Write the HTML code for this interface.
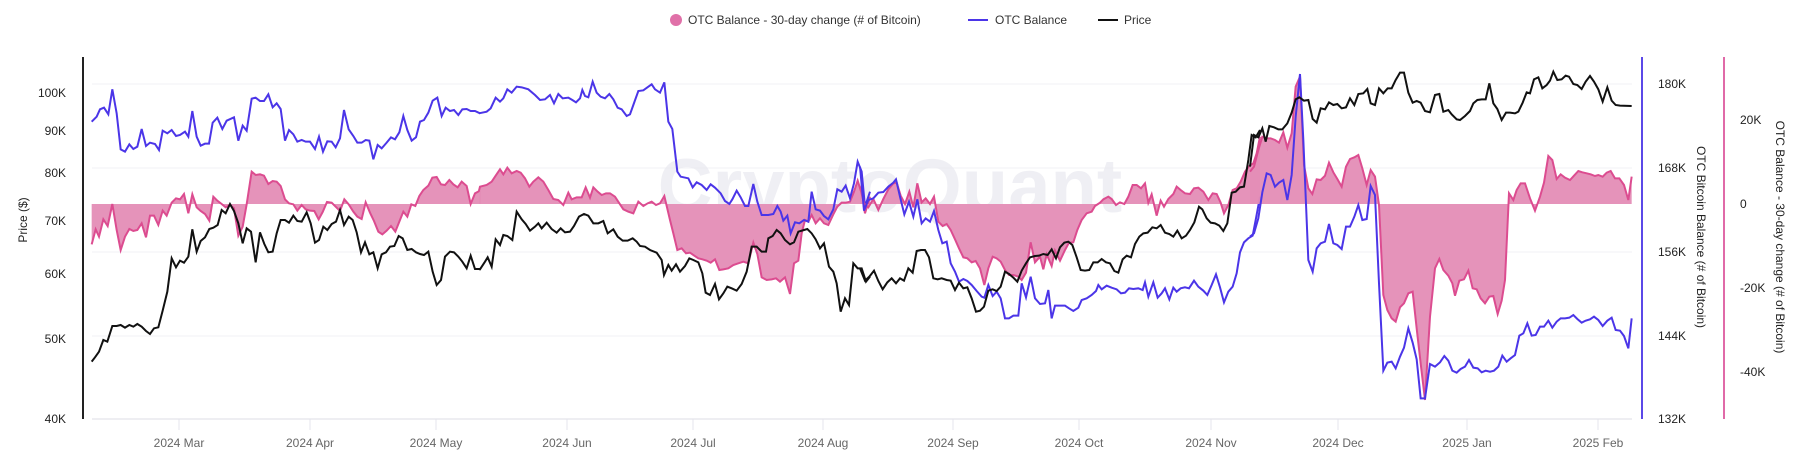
<!DOCTYPE html>
<html><head><meta charset="utf-8"><style>
body{margin:0;background:#fff;}
svg{display:block;font-family:"Liberation Sans",Arial,sans-serif;}
</style></head><body>
<svg width="1814" height="462" viewBox="0 0 1814 462" xmlns="http://www.w3.org/2000/svg">
<!-- legend -->
<circle cx="676" cy="20" r="6" fill="#e070a8"/>
<text x="688" y="24" font-size="12" fill="#333">OTC Balance - 30-day change (# of Bitcoin)</text>
<line x1="968" y1="20" x2="988" y2="20" stroke="#4b35e8" stroke-width="2"/>
<text x="995" y="24" font-size="12" fill="#333">OTC Balance</text>
<line x1="1098" y1="20" x2="1118" y2="20" stroke="#111" stroke-width="2"/>
<text x="1124" y="24" font-size="12" fill="#333">Price</text>
<!-- grid -->
<g stroke="#f0f0f4" stroke-width="1">
<line x1="92" y1="84" x2="1632" y2="84"/><line x1="92" y1="168" x2="1632" y2="168"/>
<line x1="92" y1="252" x2="1632" y2="252"/><line x1="92" y1="336" x2="1632" y2="336"/>
</g>
<line x1="92" y1="419" x2="1632" y2="419" stroke="#dcdce6" stroke-width="1"/>
<g stroke="#e4e4ec" stroke-width="1">
<line x1="179" y1="419" x2="179" y2="430"/><line x1="310" y1="419" x2="310" y2="430"/><line x1="436" y1="419" x2="436" y2="430"/><line x1="567" y1="419" x2="567" y2="430"/><line x1="693" y1="419" x2="693" y2="430"/><line x1="823" y1="419" x2="823" y2="430"/><line x1="953" y1="419" x2="953" y2="430"/><line x1="1079" y1="419" x2="1079" y2="430"/><line x1="1211" y1="419" x2="1211" y2="430"/><line x1="1338" y1="419" x2="1338" y2="430"/><line x1="1467" y1="419" x2="1467" y2="430"/><line x1="1598" y1="419" x2="1598" y2="430"/>
</g>
<g font-size="12" fill="#666" text-anchor="middle">
<text x="179" y="447">2024 Mar</text><text x="310" y="447">2024 Apr</text><text x="436" y="447">2024 May</text><text x="567" y="447">2024 Jun</text><text x="693" y="447">2024 Jul</text><text x="823" y="447">2024 Aug</text><text x="953" y="447">2024 Sep</text><text x="1079" y="447">2024 Oct</text><text x="1211" y="447">2024 Nov</text><text x="1338" y="447">2024 Dec</text><text x="1467" y="447">2025 Jan</text><text x="1598" y="447">2025 Feb</text>
</g>
<!-- watermark -->
<text x="890" y="212" font-size="76" fill="#e8e8f0" fill-opacity="0.7" text-anchor="middle" font-weight="bold">CryptoQuant</text>
<!-- axes -->
<line x1="83" y1="57" x2="83" y2="419" stroke="#222" stroke-width="2"/>
<line x1="1642" y1="57" x2="1642" y2="419" stroke="#5b48e8" stroke-width="2"/>
<line x1="1724" y1="57" x2="1724" y2="419" stroke="#e06aa8" stroke-width="2"/>
<g font-size="12" fill="#222" text-anchor="end">
<text x="66" y="97">100K</text><text x="66" y="135">90K</text><text x="66" y="177">80K</text><text x="66" y="225">70K</text><text x="66" y="278">60K</text><text x="66" y="343">50K</text><text x="66" y="423">40K</text>
</g>
<text transform="translate(27,220) rotate(-90)" font-size="12" fill="#222" text-anchor="middle">Price ($)</text>
<g font-size="12" fill="#222">
<text x="1658" y="88">180K</text><text x="1658" y="172">168K</text><text x="1658" y="256">156K</text><text x="1658" y="340">144K</text><text x="1658" y="423">132K</text>
<text x="1740" y="124">20K</text><text x="1740" y="208">0</text><text x="1740" y="292">-20K</text><text x="1740" y="376">-40K</text>
</g>
<text transform="translate(1697,237) rotate(90)" font-size="12" fill="#222" text-anchor="middle">OTC Bitcoin Balance (# of Bitcoin)</text>
<text transform="translate(1776,237) rotate(90)" font-size="12" fill="#222" text-anchor="middle">OTC Balance - 30-day change (# of Bitcoin)</text>

<!-- series: sections in zoom coords -->
<g transform="translate(80,50) scale(0.33333)">
<path d="M35,462 L35,583 47,538 57,560 70,508 83,528 97,462 110,540 122,600 135,560 148,537 160,543 172,540 185,520 198,562 210,497 222,497 235,525 248,482 260,497 275,458 288,445 300,448 312,432 325,490 337,433 350,472 362,483 375,492 388,512 400,440 412,452 425,462 437,472 450,465 462,475 475,557 488,530 500,463 515,365 527,375 540,373 552,377 565,402 578,393 590,395 602,408 615,448 627,460 640,463 652,482 665,465 677,478 690,482 703,483 716,508 728,486 741,456 755,458 767,470 780,483 793,448 806,463 820,485 832,500 845,507 857,457 870,488 882,513 895,545 907,553 920,542 933,528 946,545 958,515 970,485 982,500 994,463 1006,468 1018,438 1030,420 1045,407 1057,383 1070,381 1083,403 1095,405 1108,390 1120,403 1133,412 1145,395 1160,408 1172,462 1185,430 1200,422 1203,422 L1203,462 Z" fill="#e48db6" fill-opacity="0.95"/>
<polyline fill="none" stroke="#dc4c90" stroke-width="6" points="35,583 47,538 57,560 70,508 83,528 97,462 110,540 122,600 135,560 148,537 160,543 172,540 185,520 198,562 210,497 222,497 235,525 248,482 260,497 275,458 288,445 300,448 312,432 325,490 337,433 350,472 362,483 375,492 388,512 400,440 412,452 425,462 437,472 450,465 462,475 475,557 488,530 500,463 515,365 527,375 540,373 552,377 565,402 578,393 590,395 602,408 615,448 627,460 640,463 652,482 665,465 677,478 690,482 703,483 716,508 728,486 741,456 755,458 767,470 780,483 793,448 806,463 820,485 832,500 845,507 857,457 870,488 882,513 895,545 907,553 920,542 933,528 946,545 958,515 970,485 982,500 994,463 1006,468 1018,438 1030,420 1045,407 1057,383 1070,381 1083,403 1095,405 1108,390 1120,403 1133,412 1145,395 1160,408 1172,462 1185,430 1200,422"/>
<polyline fill="none" stroke="#4b35e8" stroke-width="6" points="35,215 50,200 60,178 72,173 85,193 97,118 110,190 122,298 135,305 148,283 160,297 172,290 185,237 198,288 210,278 225,282 237,300 248,242 262,250 275,240 288,258 300,255 315,245 325,260 337,183 350,260 362,287 375,281 387,281 398,218 412,203 427,237 440,212 462,202 475,272 488,227 500,242 515,146 527,143 540,153 552,153 565,133 578,172 590,160 602,177 615,272 627,240 640,253 652,275 665,270 677,275 690,275 705,297 717,260 729,305 742,274 755,275 767,292 780,265 792,180 806,238 820,258 832,278 845,278 857,270 868,272 880,328 893,285 905,295 920,278 933,262 945,268 958,247 970,198 982,240 995,272 1008,262 1020,215 1032,210 1045,188 1058,152 1072,143 1085,198 1097,173 1110,183 1122,180 1135,195 1147,178 1160,177 1172,183 1185,183 1200,190"/>
<polyline fill="none" stroke="#111" stroke-width="6" points="35,935 45,922 57,905 70,870 82,875 97,828 110,828 122,825 135,833 148,825 160,830 172,822 185,830 198,843 210,852 222,835 235,832 248,782 262,725 275,625 288,652 300,632 312,638 325,620 337,538 350,605 362,573 375,562 388,537 400,533 413,525 425,480 437,490 450,462 462,483 475,520 488,580 500,535 513,545 527,637 540,547 553,582 565,607 578,605 590,550 602,510 615,510 627,518 640,497 652,513 665,515 680,487 692,520 705,578 717,570 730,530 742,540 755,522 768,515 780,480 792,525 806,500 818,510 830,547 843,607 855,577 868,613 880,607 893,655 905,613 918,607 930,590 943,588 956,558 968,565 982,600 995,597 1008,607 1020,612 1032,615 1045,605 1058,665 1070,705 1083,690 1095,620 1110,605 1122,607 1135,620 1147,635 1160,655 1172,617 1185,657 1200,657"/>
</g>

<g transform="translate(470,50) scale(0.33333)">
<path d="M27,462 L30,410 50,405 65,395 77,377 90,358 100,373 112,353 125,370 140,363 152,368 165,385 178,410 190,395 205,382 220,395 235,420 250,447 265,450 280,465 295,428 305,448 320,442 335,442 347,412 360,443 370,412 383,425 395,435 408,430 420,430 435,440 448,460 460,478 475,485 490,490 505,455 520,468 533,460 545,455 558,465 570,460 583,438 600,510 610,550 622,600 635,595 648,610 660,608 673,617 685,625 697,628 710,632 722,638 735,628 748,660 760,658 775,655 790,645 805,640 820,635 835,640 850,578 862,612 875,682 890,690 905,688 918,685 930,695 945,682 960,732 972,640 985,632 995,550 1005,510 1015,515 1025,495 1037,520 1050,505 1062,520 1075,525 1090,493 1102,470 1115,458 1127,458 1140,455 1152,425 1163,392 1175,430 1185,490 1200,440 L1200,462 Z" fill="#e48db6" fill-opacity="0.95"/>
<polyline fill="none" stroke="#dc4c90" stroke-width="6" points="27,422 30,410 50,405 65,395 77,377 90,358 100,373 112,353 125,370 140,363 152,368 165,385 178,410 190,395 205,382 220,395 235,420 250,447 265,450 280,465 295,428 305,448 320,442 335,442 347,412 360,443 370,412 383,425 395,435 408,430 420,430 435,440 448,460 460,478 475,485 490,490 505,455 520,468 533,460 545,455 558,465 570,460 583,438 600,510 610,550 622,600 635,595 648,610 660,608 673,617 685,625 697,628 710,632 722,638 735,628 748,660 760,658 775,655 790,645 805,640 820,635 835,640 850,578 862,612 875,682 890,690 905,688 918,685 930,695 945,682 960,732 972,640 985,632 995,550 1005,510 1015,515 1025,495 1037,520 1050,505 1062,520 1075,525 1090,493 1102,470 1115,458 1127,458 1140,455 1152,425 1163,392 1175,430 1185,490 1200,440"/>
<polyline fill="none" stroke="#4b35e8" stroke-width="6" points="27,190 50,185 62,175 77,143 90,155 100,145 112,118 125,128 140,110 155,112 175,118 195,135 210,150 225,148 240,135 252,160 265,132 278,145 295,143 307,150 318,157 330,145 337,120 345,138 355,142 368,95 380,128 392,140 405,145 418,132 430,148 443,173 455,178 470,198 480,193 490,165 505,123 520,121 535,110 545,103 555,118 570,128 583,97 595,215 607,237 622,365 632,380 655,385 668,412 680,397 695,405 710,420 722,403 735,413 752,430 765,453 778,462 787,448 800,422 812,442 825,468 835,468 850,402 862,455 875,495 895,495 910,492 922,468 932,485 940,512 952,497 962,550 975,517 988,520 1002,510 1015,515 1025,425 1037,478 1050,482 1062,498 1075,508 1090,478 1102,418 1115,425 1127,407 1140,445 1152,400 1163,335 1175,365 1185,470 1200,425"/>
<polyline fill="none" stroke="#111" stroke-width="6" points="27,657 30,658 45,635 53,622 65,650 77,568 90,585 100,555 112,558 127,570 140,485 155,508 167,522 180,542 195,530 205,520 215,535 230,518 245,537 260,548 272,535 285,547 300,545 312,528 327,500 342,492 355,497 370,520 385,520 400,513 413,550 430,538 443,560 458,572 473,572 488,565 500,575 510,588 525,590 540,600 560,608 575,630 582,675 595,645 605,662 618,643 630,665 645,648 658,625 670,630 685,637 697,670 707,728 720,735 735,702 747,748 760,730 772,710 785,715 800,722 815,702 830,665 845,590 860,590 875,605 888,605 895,565 908,558 920,540 932,550 945,570 960,583 972,577 985,545 1002,540 1012,537 1025,550 1037,568 1050,595 1062,580 1077,650 1090,665 1100,700 1112,785 1125,745 1137,765 1150,640 1163,655 1175,655 1188,695 1200,680"/>
</g>

<g transform="translate(860,50) scale(0.33333)">
<path d="M0,462 L0,410 12,460 25,472 40,447 55,480 70,447 85,418 100,400 110,398 122,437 135,462 148,425 160,472 172,400 185,457 197,445 210,462 222,440 235,515 248,528 260,522 272,540 285,568 297,595 310,622 322,625 335,637 347,633 360,655 373,705 385,655 398,620 410,625 422,635 435,660 447,675 460,675 475,680 485,690 498,668 512,577 525,637 540,620 550,658 560,613 575,648 585,602 600,632 615,600 627,578 640,577 652,540 665,510 680,490 695,485 705,468 720,458 730,448 745,440 755,447 768,465 780,457 793,462 805,440 818,405 830,405 843,415 855,400 865,458 875,433 890,497 902,452 912,470 925,447 940,432 950,410 962,420 975,430 990,432 1002,415 1015,413 1030,425 1045,450 1058,430 1070,432 1082,458 1092,490 1105,465 1118,420 1130,415 1142,395 1155,365 1168,348 1180,340 1190,310 1200,260 L1200,462 Z" fill="#e48db6" fill-opacity="0.95"/>
<polyline fill="none" stroke="#dc4c90" stroke-width="6" points="0,410 12,460 25,472 40,447 55,480 70,447 85,418 100,400 110,398 122,437 135,462 148,425 160,472 172,400 185,457 197,445 210,462 222,440 235,515 248,528 260,522 272,540 285,568 297,595 310,622 322,625 335,637 347,633 360,655 373,705 385,655 398,620 410,625 422,635 435,660 447,675 460,675 475,680 485,690 498,668 512,577 525,637 540,620 550,658 560,613 575,648 585,602 600,632 615,600 627,578 640,577 652,540 665,510 680,490 695,485 705,468 720,458 730,448 745,440 755,447 768,465 780,457 793,462 805,440 818,405 830,405 843,415 855,400 865,458 875,433 890,497 902,452 912,470 925,447 940,432 950,410 962,420 975,430 990,432 1002,415 1015,413 1030,425 1045,450 1058,430 1070,432 1082,458 1092,490 1105,465 1118,420 1130,415 1142,395 1155,365 1168,348 1180,340 1190,310 1200,260"/>
<polyline fill="none" stroke="#4b35e8" stroke-width="6" points="0,350 12,482 25,450 40,445 55,428 70,426 85,410 100,398 108,388 120,440 133,493 147,455 160,500 172,448 185,520 197,505 210,515 222,483 235,540 247,580 260,575 272,640 285,665 297,695 310,687 322,693 335,705 350,723 365,740 373,743 385,705 398,738 410,725 422,745 435,805 447,805 460,797 475,797 485,700 498,742 512,680 525,745 540,762 555,760 565,720 575,805 585,767 600,767 615,767 627,775 640,783 655,773 665,750 680,745 695,735 708,723 715,705 725,718 740,707 755,713 770,718 783,730 795,728 807,715 820,717 835,715 848,720 855,697 865,740 880,697 893,743 905,730 915,715 928,748 940,713 950,725 962,715 975,712 987,715 1002,692 1015,710 1030,722 1042,735 1055,705 1068,673 1080,712 1092,757 1105,725 1118,710 1130,670 1140,607 1152,577 1165,565 1178,557 1188,505 1200,440"/>
<polyline fill="none" stroke="#111" stroke-width="6" points="0,655 15,692 28,680 42,662 55,693 68,718 82,697 95,685 108,700 120,685 132,692 145,655 158,668 170,603 183,600 195,600 207,622 220,685 233,688 245,685 260,690 272,692 285,720 297,698 310,715 322,712 335,745 348,785 360,782 372,770 385,722 398,718 410,723 422,710 435,665 447,672 460,683 472,695 485,662 498,640 510,622 525,618 537,617 550,612 563,615 575,598 588,625 600,592 613,578 625,575 637,585 650,622 662,660 675,662 688,660 700,637 713,637 725,627 738,637 750,640 763,663 775,668 788,628 800,617 813,622 825,582 838,560 850,550 863,548 877,532 890,535 902,525 915,548 928,552 940,560 952,542 965,565 978,557 990,540 1003,517 1017,470 1027,478 1040,505 1052,518 1065,520 1078,527 1090,543 1102,520 1115,428 1127,425 1140,412 1152,410 1165,330 1175,255 1187,262 1200,240"/>
</g>

<g transform="translate(1250,50) scale(0.33333)">
<path d="M0,462 L0,365 12,350 25,300 37,260 50,265 62,265 75,270 87,278 100,247 112,293 125,250 137,110 150,80 162,345 175,415 187,432 200,388 212,390 225,377 237,338 250,367 262,387 275,410 288,350 300,327 313,322 325,315 337,355 350,405 362,360 375,380 387,465 400,735 412,780 425,805 437,815 450,772 462,760 475,730 488,725 500,835 512,940 525,1050 540,800 555,655 568,627 580,660 595,677 607,700 615,737 628,692 642,688 655,662 668,715 680,718 692,745 705,760 718,740 730,738 743,792 755,752 765,690 777,430 790,450 800,420 812,400 825,400 840,445 855,482 870,440 882,398 895,318 907,330 920,387 932,373 945,383 960,390 972,377 985,363 997,367 1010,370 1022,373 1035,378 1045,375 1058,380 1070,368 1082,363 1095,385 1108,385 1122,405 1135,450 1145,380 L1145,462 Z" fill="#e48db6" fill-opacity="0.95"/>
<polyline fill="none" stroke="#dc4c90" stroke-width="6" points="0,365 12,350 25,300 37,260 50,265 62,265 75,270 87,278 100,247 112,293 125,250 137,110 150,80 162,345 175,415 187,432 200,388 212,390 225,377 237,338 250,367 262,387 275,410 288,350 300,327 313,322 325,315 337,355 350,405 362,360 375,380 387,465 400,735 412,780 425,805 437,815 450,772 462,760 475,730 488,725 500,835 512,940 525,1050 540,800 555,655 568,627 580,660 595,677 607,700 615,737 628,692 642,688 655,662 668,715 680,718 692,745 705,760 718,740 730,738 743,792 755,752 765,690 777,430 790,450 800,420 812,400 825,400 840,445 855,482 870,440 882,398 895,318 907,330 920,387 932,373 945,383 960,390 972,377 985,363 997,367 1010,370 1022,373 1035,378 1045,375 1058,380 1070,368 1082,363 1095,385 1108,385 1122,405 1135,450 1145,380"/>
<polyline fill="none" stroke="#4b35e8" stroke-width="6" points="0,560 12,550 25,505 37,427 50,370 62,375 75,410 87,398 100,390 112,450 125,375 137,200 150,72 160,270 175,630 188,665 200,595 212,580 225,575 237,522 250,580 262,585 275,597 288,530 300,530 313,500 325,465 337,510 350,507 362,408 375,435 387,700 400,962 412,938 425,935 437,955 450,920 462,893 475,835 488,878 500,928 512,1045 525,1045 540,942 555,950 570,937 583,918 595,932 607,962 620,968 632,957 645,950 657,930 670,953 683,955 695,967 707,962 720,965 732,962 745,950 757,917 770,935 782,925 795,915 808,857 820,850 832,820 845,857 857,855 870,830 882,830 895,812 907,833 920,815 932,805 945,805 958,803 970,795 982,807 995,818 1007,812 1020,808 1032,800 1045,810 1058,828 1072,812 1085,803 1097,840 1110,842 1122,858 1135,895 1145,805"/>
<polyline fill="none" stroke="#111" stroke-width="6" points="0,350 12,255 25,262 37,235 47,275 58,228 72,232 85,238 97,238 112,220 125,188 137,148 148,142 162,152 175,150 188,207 200,218 212,175 225,178 237,157 250,165 262,162 275,175 288,172 300,145 313,165 325,132 340,130 352,117 362,160 375,165 387,115 400,130 413,115 425,115 437,90 450,68 462,68 475,128 488,158 500,153 512,158 525,183 540,187 555,135 568,132 580,185 595,180 605,193 620,208 630,210 645,198 660,183 670,160 682,150 695,148 707,148 718,100 730,160 742,177 755,210 768,188 780,188 795,190 805,185 818,158 830,127 840,130 852,88 865,82 877,115 890,105 900,92 910,65 922,90 935,88 947,77 957,80 970,102 982,105 995,117 1007,95 1020,78 1032,95 1045,118 1058,155 1072,112 1085,152 1097,165 1110,167 1145,168"/>
</g>
</svg>
</body></html>
